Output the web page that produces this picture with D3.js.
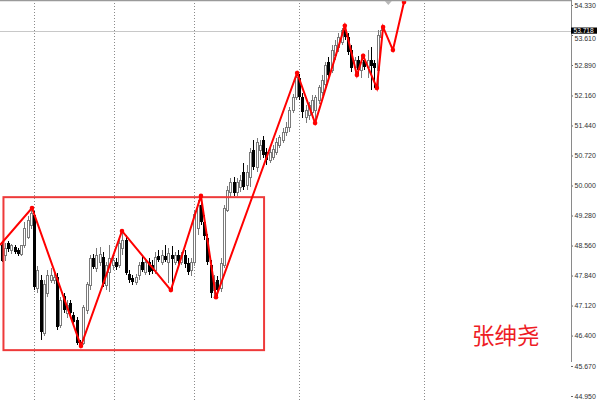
<!DOCTYPE html>
<html><head><meta charset="utf-8">
<script src="https://cdn.jsdelivr.net/npm/d3@7"></script>
<style>html,body{margin:0;padding:0;background:#fff;overflow:hidden}</style>
</head><body>
<svg id="c" width="600" height="400"></svg>
<script>
const open = [
48.57,48.31,48.62,48.43,48.52,48.45,48.35,48.55,48.76,49.03,
49.29,47.54,47.73,46.46,47.42,47.73,47.71,47.80,46.65,47.35,
46.94,47.18,46.89,46.77,46.24,46.22,47.01,47.59,48.26,48.02,
48.16,48.28,47.61,47.92,48.07,48.16,48.09,48.50,48.69,47.87,
47.78,47.68,47.83,48.16,47.92,48.16,48.09,47.97,48.31,48.16,
48.31,48.16,48.33,48.16,48.33,48.16,48.33,48.14,47.97,48.16,
48.98,49.53,49.12,48.74,48.09,47.49,47.73,47.54,48.09,49.41,
49.82,50.08,49.84,49.94,50.32,49.99,50.20,50.85,50.42,50.85,
51.09,50.80,50.61,50.66,50.80,50.97,51.09,51.26,51.38,51.81,
52.10,52.58,52.12,51.62,51.69,51.76,51.81,52.05,52.24,52.43,
52.96,52.77,53.13,53.32,53.44,53.73,53.56,53.25,52.82,53.01,
52.77,53.01,52.84,53.01,52.94,52.77,53.54];
const high = [
48.62,48.62,48.67,48.59,48.57,48.50,48.50,49.12,49.27,49.46,
49.39,48.07,47.85,47.73,47.97,48.02,47.97,47.90,47.32,47.42,
47.25,47.25,46.96,46.84,46.29,47.13,47.68,48.33,48.35,48.50,
48.52,48.40,48.16,48.57,48.33,48.26,48.74,48.91,48.81,47.97,
47.85,47.87,48.16,48.31,48.26,48.26,48.21,48.40,48.45,48.45,
48.57,48.50,48.55,48.40,48.45,48.40,48.45,48.26,48.26,49.41,
49.65,49.75,49.29,48.83,48.21,47.85,47.83,48.26,49.53,49.99,
50.18,50.20,50.18,50.25,50.54,50.49,50.90,51.09,51.14,51.09,
51.19,50.90,50.90,50.97,51.14,51.21,51.38,51.52,51.88,52.19,
52.70,52.67,52.22,51.93,52.00,52.17,52.17,52.41,52.65,52.96,
53.08,53.37,53.49,53.66,53.78,53.83,53.66,53.37,53.08,53.11,
53.13,53.11,53.25,53.32,53.01,53.73,53.80];
const low = [
48.16,48.19,48.40,48.35,48.35,48.31,48.31,48.50,48.71,48.95,
47.49,47.42,46.29,46.39,47.32,47.66,47.63,46.53,46.58,46.94,
46.82,46.87,46.65,46.17,46.12,46.17,46.91,47.49,47.99,47.92,
48.07,47.56,47.49,47.44,47.97,47.97,48.02,48.33,47.85,47.66,
47.61,47.61,47.73,47.92,47.85,47.85,47.87,47.87,48.16,48.09,
48.16,47.66,47.49,48.09,48.11,48.09,48.02,47.85,47.83,48.07,
48.81,49.05,48.69,48.09,47.30,47.32,47.35,47.44,48.02,49.36,
49.70,49.75,49.75,49.84,49.89,49.89,49.96,50.37,50.32,50.61,
50.66,50.49,50.54,50.61,50.73,50.90,51.02,51.19,51.28,51.74,
52.05,52.05,51.62,51.50,51.57,51.62,51.50,51.95,52.15,52.34,
52.58,52.70,53.01,53.20,53.37,53.49,53.13,52.72,52.67,52.65,
52.58,52.77,52.58,52.29,52.34,52.34,53.44];
const close = [
48.19,48.50,48.47,48.55,48.40,48.35,48.55,48.98,49.17,49.34,
47.56,47.97,46.48,47.63,47.85,47.83,47.80,46.60,47.25,47.01,
47.13,46.94,46.72,46.22,46.17,47.08,47.63,48.26,48.04,48.31,
48.35,47.63,48.07,48.26,48.21,48.04,48.62,48.69,47.90,47.73,
47.68,47.80,48.09,47.97,48.16,47.92,47.95,48.28,48.21,48.31,
48.21,48.38,48.23,48.33,48.19,48.33,48.11,47.92,48.16,49.31,
49.53,49.12,48.79,48.16,47.42,47.68,47.49,48.14,49.46,49.89,
50.06,49.82,50.06,50.13,49.96,50.32,50.80,50.44,51.04,50.97,
50.73,50.61,50.78,50.87,51.04,51.14,51.28,51.40,51.81,52.12,
52.58,52.12,51.76,51.81,51.93,52.05,52.10,52.34,52.53,52.87,
52.65,53.25,53.37,53.56,53.71,53.56,53.20,52.82,53.01,52.77,
52.94,52.84,53.01,52.87,52.82,53.61,53.718];

const yTickLabels = ["54.330","53.610","52.890","52.160","51.440","50.720","50.000","49.280","48.560","47.840","47.120","46.400","45.670","44.950"];
const gridBars = [10, 34.4, 58.9, 91, 129.2];
const zigzagBars = [-0.46, 9.33, 24.3, 36.85, 51.8, 61.0, 65.6, 90.4, 95.9, 105.0, 108.7, 110.6, 114.8, 116.7, 119.7, 123.1];
const zigzagPrices = [48.57, 49.46, 46.15, 48.91, 47.49, 49.75, 47.32, 52.70, 51.50, 53.83, 52.65, 53.11, 52.34, 53.80, 53.25, 54.40];
const boxBars = [0.6, 80.3];
const boxPrices = [49.72, 46.05];
const lastPrice = 53.718;
const shiftBar = 118.3;
const signature = "张绅尧";

const W = 600, H = 400, axisX = 571;
const svg = d3.select("#c");
svg.append("rect").attr("width", W).attr("height", H).attr("fill", "#fff");

const x = d3.scaleLinear().domain([0, open.length - 1]).range([1.5, 380.8]);
const y = d3.scaleLinear().domain([44.95, 54.33]).range([396, 5]);

// vertical dotted grid
svg.append("g").selectAll("line").data(gridBars).join("line")
  .attr("x1", d => Math.round(x(d)) + 0.5).attr("x2", d => Math.round(x(d)) + 0.5)
  .attr("y1", 0).attr("y2", H)
  .attr("stroke", "#8a8a8a").attr("stroke-width", 1).attr("stroke-dasharray", "1,2");

// current price line
svg.append("line").attr("x1", 0).attr("x2", axisX)
  .attr("y1", Math.round(y(lastPrice)) + 0.5).attr("y2", Math.round(y(lastPrice)) + 0.5)
  .attr("stroke", "#c8c8c8").attr("stroke-width", 1);

// candles
const idx = d3.range(open.length);
const bull = i => close[i] >= open[i];
const cg = svg.append("g").attr("shape-rendering", "crispEdges");
cg.selectAll("line").data(idx).join("line")
  .attr("x1", i => Math.round(x(i)) + 0.5).attr("x2", i => Math.round(x(i)) + 0.5)
  .attr("y1", i => y(high[i])).attr("y2", i => y(low[i]))
  .attr("stroke", i => bull(i) ? "#7a7a7a" : "#000");
cg.selectAll("rect").data(idx).join("rect")
  .attr("x", i => bull(i) ? Math.round(x(i)) - 0.5 : Math.round(x(i)) - 1)
  .attr("width", i => bull(i) ? 2 : 3)
  .attr("y", i => y(Math.max(open[i], close[i])))
  .attr("height", i => Math.max(1, Math.abs(y(open[i]) - y(close[i]))))
  .attr("fill", i => bull(i) ? "#fff" : "#000")
  .attr("stroke", i => bull(i) ? "#7a7a7a" : "none");

// rectangle
svg.append("rect")
  .attr("x", x(boxBars[0])).attr("y", y(boxPrices[0]))
  .attr("width", x(boxBars[1]) - x(boxBars[0]))
  .attr("height", y(boxPrices[1]) - y(boxPrices[0]))
  .attr("fill", "none").attr("stroke", "#ee3a3a").attr("stroke-width", 2);

// zigzag
const zz = zigzagBars.map((b, i) => [b, zigzagPrices[i]]);
svg.append("path").datum(zz)
  .attr("d", d3.line().x(d => x(d[0])).y(d => y(d[1])))
  .attr("fill", "none").attr("stroke", "#ff0000").attr("stroke-width", 2)
  .attr("stroke-linejoin", "miter");
svg.append("g").selectAll("circle").data(zz.slice(1)).join("circle")
  .attr("cx", d => x(d[0])).attr("cy", d => y(d[1])).attr("r", 2.3).attr("fill", "#ff0000");

// top border
svg.append("line").attr("x1", 0).attr("x2", axisX).attr("y1", 0.5).attr("y2", 0.5)
  .attr("stroke", "#9a9a9a").attr("stroke-width", 1.5);
// chart shift marker
const sx = x(shiftBar);
svg.append("path").attr("d", `M${sx - 3.5},1 L${sx + 3.5},1 L${sx},5 Z`).attr("fill", "#b8b8b8");

// right axis
const axis = d3.axisRight(y)
  .tickValues(yTickLabels.map(Number))
  .tickFormat((d, i) => yTickLabels[i])
  .tickSize(2).tickPadding(1.5);
const ag = svg.append("g").attr("transform", `translate(${axisX},0)`).call(axis);
ag.select(".domain").remove();
ag.selectAll(".tick line").attr("stroke", "#666");
ag.selectAll(".tick text").attr("fill", "#333")
  .style("font-family", "Liberation Sans, Arial, sans-serif").style("font-size", "7px");
// label partly hidden below the last-price box: nudge it below the box
ag.selectAll(".tick text").filter((d, i) => i === 1).attr("dy", "0.75em");
svg.append("line").attr("x1", axisX + 0.5).attr("x2", axisX + 0.5).attr("y1", 0).attr("y2", 362)
  .attr("stroke", "#8a8a8a").attr("stroke-width", 1);

// last price box
const ly = y(lastPrice);
svg.append("rect").attr("x", axisX).attr("y", ly - 3).attr("width", 26).attr("height", 6.2).attr("fill", "#000");
svg.append("text").attr("x", axisX + 2.5).attr("y", ly + 2.5).text(lastPrice.toFixed(3))
  .attr("fill", "#fff").style("font-family", "Liberation Sans, Arial, sans-serif").style("font-size", "6.6px");

// signature text
svg.append("text").attr("x", 472).attr("y", 344).text(signature)
  .attr("fill", "#ee1c25")
  .style("font-family", "'Noto Sans CJK SC', sans-serif").style("font-size", "22.5px");
</script>
</body></html>
